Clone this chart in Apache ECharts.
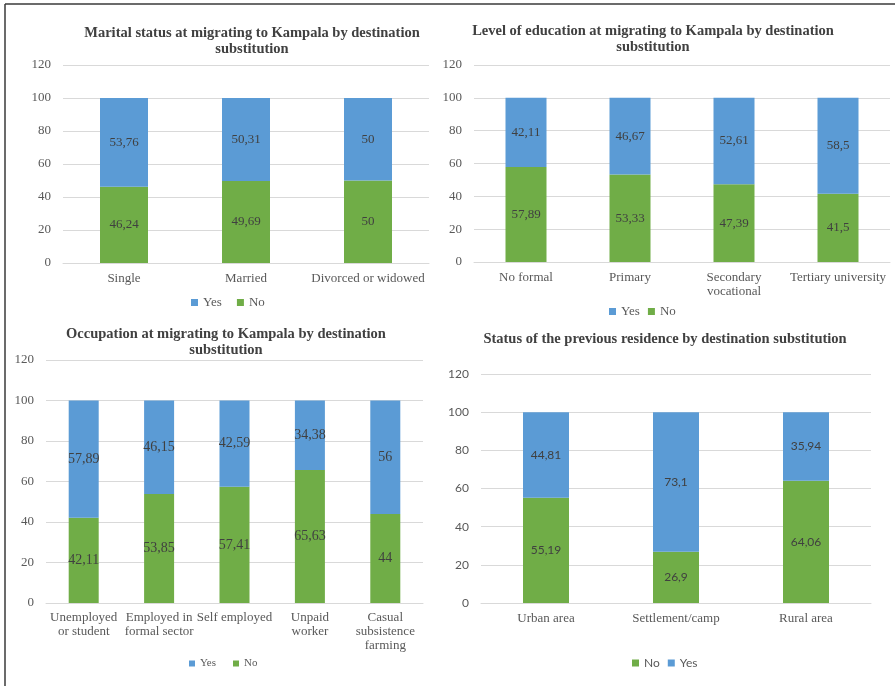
<!DOCTYPE html>
<html>
<head>
<meta charset="utf-8">
<script src="https://cdn.jsdelivr.net/npm/echarts@6/dist/echarts.min.js"></script>
<style>
  html, body { margin: 0; padding: 0; background: #fff; }
  #chart { width: 895px; height: 686px; }
</style>
</head>
<body>
<div id="chart"></div>
<script>
// panel 1 - marital status
const maritalCats = ['Single', 'Married', 'Divorced or widowed'];
const maritalYes = [53.76, 50.31, 50];
const maritalNo = [46.24, 49.69, 50];

// panel 2 - education
const eduCats = ['No formal', 'Primary', 'Secondary\nvocational', 'Tertiary university'];
const eduYes = [42.11, 46.67, 52.61, 58.5];
const eduNo = [57.89, 53.33, 47.39, 41.5];

// panel 3 - occupation
const occCats = ['Unemployed\nor student', 'Employed in\nformal sector', 'Self employed', 'Unpaid\nworker', 'Casual\nsubsistence\nfarming'];
const occYes = [57.89, 46.15, 42.59, 34.38, 56];
const occNo = [42.11, 53.85, 57.41, 65.63, 44];

// panel 4 - previous residence
const resCats = ['Urban area', 'Settlement/camp', 'Rural area'];
const resYes = [44.81, 73.1, 35.94];
const resNo = [55.19, 26.9, 64.06];

const yTicks = { min: 0, max: 120, interval: 20 };

const BLUE = '#5B9BD5';
const GREEN = '#70AD47';
const SERIF = '"Liberation Serif", "Times New Roman", serif';
const SANS = 'Lato, "Liberation Sans", sans-serif';

const chart = echarts.init(document.getElementById('chart'), null, { renderer: 'canvas' });

const grids = [
  { left: 63, top: 65, width: 366, height: 198 },
  { left: 474, top: 65, width: 416, height: 197 },
  { left: 46, top: 360, width: 377, height: 243 },
  { left: 481, top: 374, width: 390, height: 229 }
];

const fontFor = [SERIF, SERIF, SERIF, SANS];
const labelSize = [13, 13, 14, 12];
const cats = [maritalCats, eduCats, occCats, resCats];

const xAxes = cats.map((c, i) => ({
  type: 'category',
  gridIndex: i,
  data: c,
  axisLine: { lineStyle: { color: '#D9D9D9' } },
  axisTick: { show: false },
  axisLabel: {
    interval: 0,
    margin: i === 2 ? 8 : 9,
    color: '#595959',
    fontFamily: SERIF,
    fontSize: 13,
    lineHeight: 14
  }
}));

const yAxes = grids.map((g, i) => ({
  type: 'value',
  gridIndex: i,
  min: yTicks.min,
  max: yTicks.max,
  interval: yTicks.interval,
  axisLine: { show: false },
  axisTick: { show: false },
  splitLine: { lineStyle: { color: '#D9D9D9' } },
  axisLabel: {
    margin: 12,
    color: '#595959',
    fontFamily: fontFor[i],
    fontSize: i === 3 ? 12 : 13
  }
}));

function fmt(p) {
  return String(p.value).replace('.', ',');
}

function barSeries(name, data, idx, color, width) {
  return {
    name: name,
    type: 'bar',
    stack: 'p' + idx,
    xAxisIndex: idx,
    yAxisIndex: idx,
    data: data,
    barWidth: width,
    itemStyle: { color: color },
    label: {
      show: true,
      position: 'inside',
      formatter: fmt,
      color: '#404040',
      fontFamily: fontFor[idx],
      fontSize: labelSize[idx]
    },
    animation: false
  };
}

const series = [
  barSeries('No', maritalNo, 0, GREEN, 48),
  barSeries('Yes', maritalYes, 0, BLUE, 48),
  barSeries('No', eduNo, 1, GREEN, 41),
  barSeries('Yes', eduYes, 1, BLUE, 41),
  barSeries('No', occNo, 2, GREEN, 30),
  barSeries('Yes', occYes, 2, BLUE, 30),
  barSeries('No', resNo, 3, GREEN, 46),
  barSeries('Yes', resYes, 3, BLUE, 46)
];

const titleStyle = {
  fontFamily: SERIF,
  fontWeight: 'bold',
  fontSize: 14.5,
  color: '#404040',
  lineHeight: 16
};

const option = {
  backgroundColor: '#fff',
  title: [
    { text: 'Marital status at migrating to Kampala by destination\nsubstitution', left: 247, top: 20, textAlign: 'center', textStyle: titleStyle },
    { text: 'Level of education at migrating to Kampala by destination\nsubstitution', left: 648, top: 18, textAlign: 'center', textStyle: titleStyle },
    { text: 'Occupation at migrating to Kampala by destination\nsubstitution', left: 221, top: 321, textAlign: 'center', textStyle: titleStyle },
    { text: 'Status of the previous residence by destination substitution', left: 660, top: 326, textAlign: 'center', textStyle: titleStyle }
  ],
  legend: [
    { data: ['Yes', 'No'], left: 186, top: 291, icon: 'rect', itemWidth: 7, itemHeight: 7, itemGap: 15,
      textStyle: { fontFamily: SERIF, fontSize: 13, color: '#595959' }, selectedMode: false },
    { data: ['Yes', 'No'], left: 604, top: 300, icon: 'rect', itemWidth: 7, itemHeight: 7, itemGap: 8,
      textStyle: { fontFamily: SERIF, fontSize: 13, color: '#595959' }, selectedMode: false },
    { data: ['Yes', 'No'], left: 184, top: 653, icon: 'rect', itemWidth: 6, itemHeight: 6, itemGap: 17,
      textStyle: { fontFamily: SERIF, fontSize: 11, color: '#595959' }, selectedMode: false },
    { data: ['No', 'Yes'], left: 627, top: 652, icon: 'rect', itemWidth: 7, itemHeight: 7, itemGap: 8,
      textStyle: { fontFamily: SANS, fontSize: 12, color: '#595959' }, selectedMode: false }
  ],
  grid: grids,
  xAxis: xAxes,
  yAxis: yAxes,
  series: series,
  graphic: [
    { type: 'line', shape: { x1: 5, y1: 4, x2: 895, y2: 4 }, style: { stroke: '#3a3a3a', lineWidth: 1.5 } },
    { type: 'line', shape: { x1: 5, y1: 4, x2: 5, y2: 686 }, style: { stroke: '#3a3a3a', lineWidth: 1.5 } }
  ]
};

chart.setOption(option);
</script>
</body>
</html>
